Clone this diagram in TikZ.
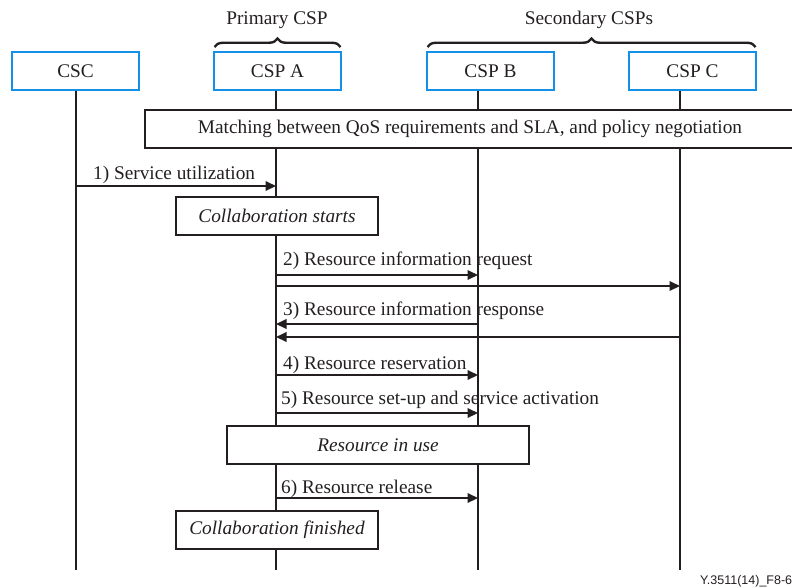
\documentclass[tikz,border=0pt]{standalone}
\usepackage{fontspec}
\setmainfont{Liberation Serif}
\newfontfamily\footfont{Liberation Sans}
\usetikzlibrary{arrows.meta,decorations.pathreplacing}
\definecolor{headblue}{RGB}{20,145,230}
\definecolor{ink}{RGB}{35,31,32}
\tikzset{
  txt/.style={font=\fontsize{19.3}{22}\selectfont, text=ink},
  itxt/.style={font=\fontsize{19.3}{22}\selectfont\itshape, text=ink},
  headbox/.style={draw=headblue, line width=2pt, fill=white, minimum width=127pt, minimum height=38pt, inner sep=0pt, txt},
  phasebox/.style={draw=ink, line width=2pt, fill=white, minimum height=38pt, inner sep=0pt, txt},
  lifeline/.style={draw=ink, line width=2pt},
  msg/.style={draw=ink, line width=2pt, -{Triangle[length=10.5pt,width=9.5pt]}},
  msglabel/.style={txt, anchor=base west, inner sep=0pt},
  grpbrace/.style={draw=ink, line width=2.4pt, decorate, decoration={brace, amplitude=8.5pt}},
}
\begin{document}
\begin{tikzpicture}[x=1pt, y=-1pt]
\useasboundingbox (0,0) rectangle (792,587);

% participant heads
\node[headbox] (csc)  at (75.5,71)  {CSC};
\node[headbox] (cspa) at (277.5,71) {CSP A};
\node[headbox] (cspb) at (490.5,71) {CSP B};
\node[headbox] (cspc) at (692.5,71) {CSP C};

% lifeline end points
\coordinate (cscend)  at (76,570);
\coordinate (cspaend) at (276,570);
\coordinate (cspbend) at (478,570);
\coordinate (cspcend) at (680,570);

\draw[lifeline] (cscend |- csc.south) -- (cscend);
\draw[lifeline] (cspaend |- cspa.south) -- (cspaend);
\draw[lifeline] (cspbend |- cspb.south) -- (cspbend);
\draw[lifeline] (cspcend |- cspc.south) -- (cspcend);

% group braces and titles
\coordinate (pl) at (214.5,47);
\coordinate (pr) at (340.5,47);
\coordinate (sl) at (427.5,47);
\coordinate (sr) at (755.5,47);
\draw[grpbrace] (pl) -- (pr);
\draw[grpbrace] (sl) -- (sr);
\node[txt, inner sep=0pt] (primary) at (277,20) {Primary CSP};
\node[txt, inner sep=0pt] (secondary) at (589,20) {Secondary CSPs};

% negotiation phase
\node[phasebox, minimum width=650pt] (match) at (470,129)
  {Matching between QoS requirements and SLA, and policy negotiation};

% 1) service utilization
\coordinate (m1) at (0,186);
\draw[msg] (csc |- m1) -- (cspaend |- m1);
\node[msglabel] (l1) at (93,179) {1) Service utilization};

\node[phasebox, minimum width=202pt, itxt] (cstart) at (277,216) {Collaboration starts};

% 2) resource information request
\coordinate (m2a) at (0,275);
\coordinate (m2b) at (0,286);
\draw[msg] (cspaend |- m2a) -- (cspbend |- m2a);
\draw[msg] (cspaend |- m2b) -- (cspcend |- m2b);
\node[msglabel] (l2) at (283,265) {2) Resource information request};

% 3) resource information response
\coordinate (m3a) at (0,324);
\coordinate (m3b) at (0,337);
\draw[msg] (cspbend |- m3a) -- (cspaend |- m3a);
\draw[msg] (cspcend |- m3b) -- (cspaend |- m3b);
\node[msglabel] (l3) at (283,315) {3) Resource information response};

% 4) resource reservation
\coordinate (m4) at (0,375);
\draw[msg] (cspaend |- m4) -- (cspbend |- m4);
\node[msglabel] (l4) at (283,369) {4) Resource reservation};

% 5) set-up and activation
\coordinate (m5) at (0,413);
\draw[msg] (cspaend |- m5) -- (cspbend |- m5);
\node[msglabel] (l5) at (281,404) {5) Resource set-up and service activation};

\node[phasebox, minimum width=302pt, itxt] (inuse) at (378,445) {Resource in use};

% 6) resource release
\coordinate (m6) at (0,498);
\draw[msg] (cspaend |- m6) -- (cspbend |- m6);
\node[msglabel] (l6) at (281,493) {6) Resource release};

\node[phasebox, minimum width=202pt, itxt] (cend) at (277,530) {Collaboration finished};

% figure reference
\node[anchor=base west, inner sep=0pt, font=\footfont\fontsize{12.5}{14}\selectfont, text=ink] (ref) at (700,584) {Y.3511(14)\_F8-6};
\end{tikzpicture}
\end{document}
